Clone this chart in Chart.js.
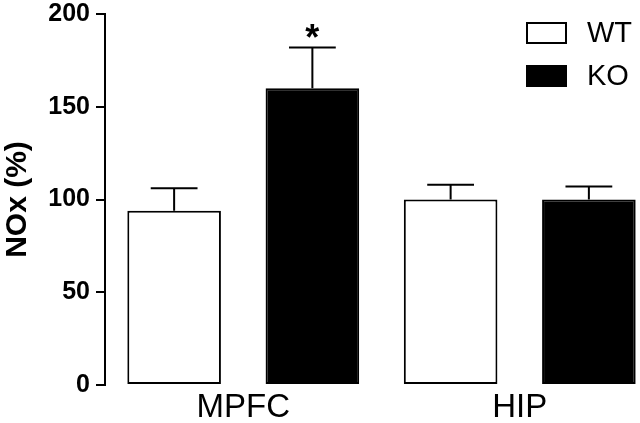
<!DOCTYPE html>
<html lang="en">
<head>
    <meta charset="UTF-8">
    <title>NOx (%)</title>
    <script src="https://cdn.jsdelivr.net/npm/chart.js"></script>
    <style>
        html, body { margin: 0; padding: 0; background: #fff; overflow: hidden; }
        #wrap { width: 660px; height: 423px; }
    </style>
</head>
<body>
    <div id="wrap"><canvas id="chart" width="660" height="423"></canvas></div>
    <script>
        // values
        const categories = ['MPFC', 'HIP'];
        const seriesNames = ['WT', 'KO'];
        const wtMeans = [94, 100];
        const wtErrors = [12, 8];
        const koMeans = [160, 100];
        const koErrors = [22, 7];
        const koMarks = ['*', ''];
        const yTicks = [0, 50, 100, 150, 200];

        const FONT = "'Liberation Sans', Arial, sans-serif";

        // upper-only error bars with a cap half as wide as the bar, plus the * marks
        const errorBars = {
            id: 'errorBars',
            afterDatasetsDraw(chart) {
                const ctx = chart.ctx;
                const y = chart.scales.y;
                chart.data.datasets.forEach((ds, i) => {
                    const meta = chart.getDatasetMeta(i);
                    meta.data.forEach((bar, j) => {
                        const top = y.getPixelForValue(ds.data[j] + ds.errors[j]);
                        const half = bar.width / 4;
                        ctx.save();
                        ctx.strokeStyle = '#000';
                        ctx.lineWidth = 2;
                        ctx.beginPath();
                        ctx.moveTo(bar.x, bar.y);
                        ctx.lineTo(bar.x, top);
                        ctx.moveTo(bar.x - half, top);
                        ctx.lineTo(bar.x + half, top);
                        ctx.stroke();
                        if (ds.marks && ds.marks[j]) {
                            ctx.fillStyle = '#000';
                            ctx.font = 'bold 36px ' + FONT;
                            ctx.textAlign = 'center';
                            ctx.textBaseline = 'alphabetic';
                            ctx.fillText(ds.marks[j], bar.x, top + 3);
                        }
                        ctx.restore();
                    });
                });
            }
        };

        // legend drawn in the top right corner like the original figure
        const boxLegend = {
            id: 'boxLegend',
            afterDraw(chart) {
                const ctx = chart.ctx;
                ctx.save();
                chart.data.datasets.forEach((ds, i) => {
                    const bx = 527, by = 23 + i * 43;
                    ctx.fillStyle = ds.backgroundColor;
                    ctx.fillRect(bx, by, 39, 20);
                    ctx.strokeStyle = '#000';
                    ctx.lineWidth = 2;
                    ctx.strokeRect(bx, by, 39, 20);
                    ctx.fillStyle = '#000';
                    ctx.font = '29px ' + FONT;
                    ctx.textAlign = 'left';
                    ctx.textBaseline = 'middle';
                    ctx.fillText(ds.label, 587, by + 11);
                });
                ctx.restore();
            }
        };

        new Chart(document.getElementById('chart').getContext('2d'), {
            type: 'bar',
            data: {
                labels: categories,
                datasets: [
                    {
                        label: seriesNames[0],
                        data: wtMeans,
                        errors: wtErrors,
                        backgroundColor: '#ffffff',
                        borderColor: '#000000',
                        borderWidth: 2,
                        borderSkipped: false
                    },
                    {
                        label: seriesNames[1],
                        data: koMeans,
                        errors: koErrors,
                        marks: koMarks,
                        backgroundColor: '#000000',
                        borderColor: '#000000',
                        borderWidth: 2,
                        borderSkipped: false
                    }
                ]
            },
            options: {
                responsive: false,
                animation: false,
                devicePixelRatio: 1,
                categoryPercentage: 1.0,
                barPercentage: 0.677,
                layout: { padding: { top: 14, right: 2, bottom: 0, left: 0 } },
                plugins: {
                    legend: { display: false },
                    tooltip: { enabled: false }
                },
                scales: {
                    x: {
                        grid: { display: false },
                        border: { display: false },
                        ticks: {
                            color: '#000',
                            padding: -5,
                            font: { family: FONT, size: 33 }
                        },
                        afterFit(scale) { scale.height = 38; }
                    },
                    y: {
                        min: 0,
                        max: 200,
                        afterBuildTicks(scale) { scale.ticks = yTicks.map(v => ({ value: v })); },
                        grid: {
                            drawOnChartArea: false,
                            drawTicks: true,
                            tickLength: 9,
                            color: '#000',
                            lineWidth: 2
                        },
                        border: { color: '#000', width: 2 },
                        ticks: {
                            color: '#000',
                            padding: 6,
                            font: { family: FONT, size: 25, weight: 'bold', lineHeight: 1 }
                        },
                        title: {
                            display: true,
                            text: 'NOx (%)',
                            color: '#000',
                            padding: { top: 0, bottom: 0 },
                            font: { family: FONT, size: 30, weight: 'bold' }
                        },
                        afterFit(scale) {
                            scale.width = 105;
                            scale.paddingTop = 0;
                            scale.paddingBottom = 0;
                        }
                    }
                }
            },
            plugins: [errorBars, boxLegend]
        });
    </script>
</body>
</html>
